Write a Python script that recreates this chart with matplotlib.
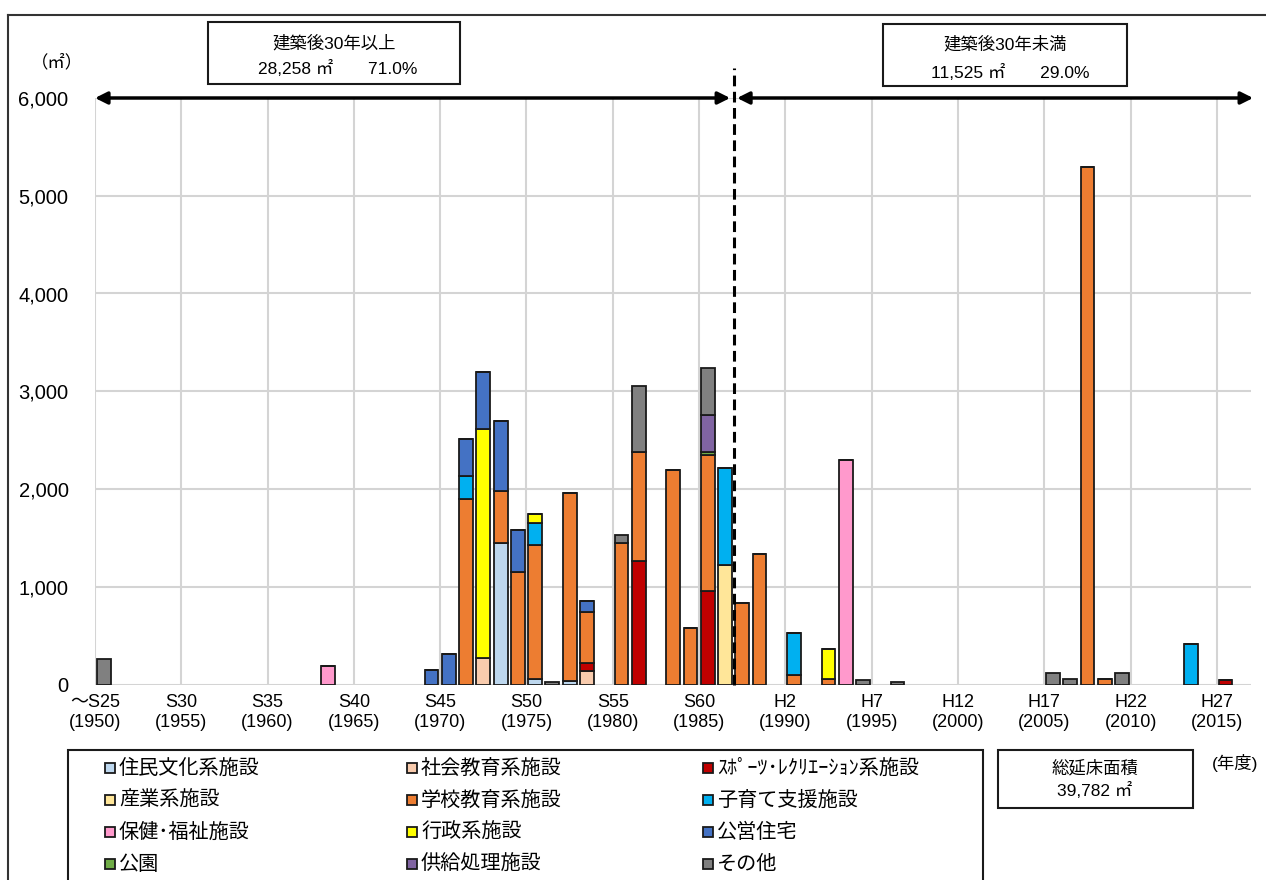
import matplotlib.pyplot as plt
from matplotlib.patches import Rectangle

plt.rcParams['font.family'] = ['Liberation Sans', 'Noto Sans CJK JP']

# 建築年度（西暦）
years = [1950, 1963, 1969, 1970, 1971, 1972, 1973, 1974, 1975, 1976, 1977, 1978,
         1980, 1981, 1983, 1984, 1985, 1986, 1987, 1988, 1990, 1992, 1993, 1994,
         1996, 2005, 2006, 2007, 2008, 2009, 2013, 2015]

# 施設分類ごとの延床面積（㎡）
jumin = {1973: 1450, 1975: 60, 1977: 40}
shakai = {1972: 270, 1978: 140}
sports = {1978: 80, 1981: 1260, 1985: 960, 2015: 45}
sangyo = {1986: 1220}
gakko = {1971: 1900, 1973: 530, 1974: 1150, 1975: 1370, 1977: 1920, 1978: 520,
         1980: 1450, 1981: 1120, 1983: 2190, 1984: 575, 1985: 1385, 1987: 835,
         1988: 1330, 1990: 95, 1992: 60, 2007: 5290, 2008: 60}
kosodate = {1971: 235, 1975: 220, 1986: 990, 1990: 430, 2013: 415}
hoken = {1963: 190, 1993: 2300}
gyosei = {1972: 2340, 1975: 90, 1992: 300}
koei = {1969: 150, 1970: 310, 1971: 375, 1972: 585, 1973: 720, 1974: 430, 1978: 115}
koen = {1985: 35}
kyokyu = {1985: 375}
sonota = {1950: 260, 1976: 25, 1980: 75, 1981: 675, 1985: 480, 1994: 45, 1996: 25,
          2005: 120, 2006: 60, 2009: 120}

names = ['住民文化系施設', '社会教育系施設', 'ｽﾎﾟｰﾂ･ﾚｸﾘｴｰｼｮﾝ系施設',
         '産業系施設', '学校教育系施設', '子育て支援施設',
         '保健･福祉施設', '行政系施設', '公営住宅',
         '公園', '供給処理施設', 'その他']
series = [jumin, shakai, sports, sangyo, gakko, kosodate,
          hoken, gyosei, koei, koen, kyokyu, sonota]
colors = ['#BDD7EE', '#F8CBAD', '#C00000', '#FFE699', '#ED7D31', '#00B0F0',
          '#FF99CC', '#FFFF00', '#4472C4', '#70AD47', '#8064A2', '#808080']

tick_labels = ['～S25\n(1950)', 'S30\n(1955)', 'S35\n(1960)', 'S40\n(1965)',
               'S45\n(1970)', 'S50\n(1975)', 'S55\n(1980)', 'S60\n(1985)',
               'H2\n(1990)', 'H7\n(1995)', 'H12\n(2000)', 'H17\n(2005)',
               'H22\n(2010)', 'H27\n(2015)']

W, H = 1266, 880
def fx(x):
    return x / W
def fy(y):
    return 1 - y / H

fig = plt.figure(figsize=(W / 100, H / 100), dpi=100)
ax = fig.add_axes([fx(95), fy(684.5), fx(1251.4) - fx(95), fy(98) - fy(684.5)])

xpos = [y - 1950 + 0.5 for y in years]
bottom = [0] * len(years)
for d, c in zip(series, colors):
    vals = [d.get(y, 0) for y in years]
    ax.bar(xpos, vals, width=0.8, bottom=bottom, color=c, edgecolor='#1a1a1a',
           linewidth=1.3, zorder=3)
    bottom = [b + v for b, v in zip(bottom, vals)]

ax.set_xlim(0, 67)
ax.set_ylim(0, 6000)
ax.set_xticks(range(0, 66, 5))
ax.set_xticklabels(tick_labels, fontsize=13, linespacing=1.25)
ax.set_yticks(range(0, 6001, 1000))
ax.set_yticklabels([f'{v:,}' for v in range(0, 6001, 1000)], fontsize=14.5)
ax.tick_params(axis='x', length=0, pad=7)
ax.tick_params(axis='y', length=0, pad=19)
for s in ax.spines.values():
    s.set_visible(False)
ax.grid(True, color='#d4d4d4', linewidth=1.5, zorder=0)
ax.set_axisbelow(True)

# 30年の境界線と矢印
ax.plot([37, 37], [0, 6310], color='black', linestyle=(0, (3.5, 1.8)),
        linewidth=2.2, clip_on=False, zorder=5)
arrow = dict(arrowstyle='<|-|>', color='black', lw=2.5, mutation_scale=18,
             shrinkA=0, shrinkB=0)
ax.annotate('', xy=(0, 6000), xytext=(36.8, 6000), arrowprops=arrow,
            annotation_clip=False, zorder=6)
ax.annotate('', xy=(37.2, 6000), xytext=(67.1, 6000), arrowprops=arrow,
            annotation_clip=False, zorder=6)

# 外枠
fig.add_artist(plt.Line2D([fx(8), fx(8)], [fy(15), 0], color='#333333', lw=1.5))
fig.add_artist(plt.Line2D([fx(8), 1], [fy(15), fy(15)], color='#333333', lw=1.5))

def box(x0, y0, x1, y1):
    fig.add_artist(Rectangle((fx(x0), fy(y1)), fx(x1) - fx(x0), fy(y0) - fy(y1),
                             transform=fig.transFigure, fill=False,
                             edgecolor='#1a1a1a', linewidth=1.5))

box(208, 22, 460, 84)
fig.text(fx(334), fy(43), '建築後30年以上', ha='center', va='center', fontsize=12.5)
fig.text(fx(338), fy(68), '28,258 ㎡　　71.0%', ha='center', va='center', fontsize=12.5)
box(883, 24, 1127, 86)
fig.text(fx(1005), fy(44), '建築後30年未満', ha='center', va='center', fontsize=12.5)
fig.text(fx(1010), fy(72), '11,525 ㎡　　29.0%', ha='center', va='center', fontsize=12.5)

fig.text(fx(57), fy(62), '（㎡）', ha='center', va='center', fontsize=12.5)
fig.text(fx(1235), fy(763), '(年度)', ha='center', va='center', fontsize=12.5)

# 凡例
box(68, 750, 983, 900)
col_x = [110, 412, 708]
row_y = [768, 800, 832, 864]
for i, (n, c) in enumerate(zip(names, colors)):
    cx = col_x[i % 3]
    ry = row_y[i // 3]
    fig.add_artist(Rectangle((fx(cx - 5), fy(ry + 5)), fx(10), 10 / H,
                             transform=fig.transFigure, facecolor=c,
                             edgecolor='#1a1a1a', linewidth=1.3))
    fig.text(fx(cx + 9), fy(ry), n, ha='left', va='center', fontsize=14.5)

# 総延床面積
box(998, 750, 1193, 808)
fig.text(fx(1095), fy(768), '総延床面積', ha='center', va='center', fontsize=12.5)
fig.text(fx(1095), fy(790), '39,782 ㎡', ha='center', va='center', fontsize=12.5)

fig.savefig('out.png', dpi=100)
